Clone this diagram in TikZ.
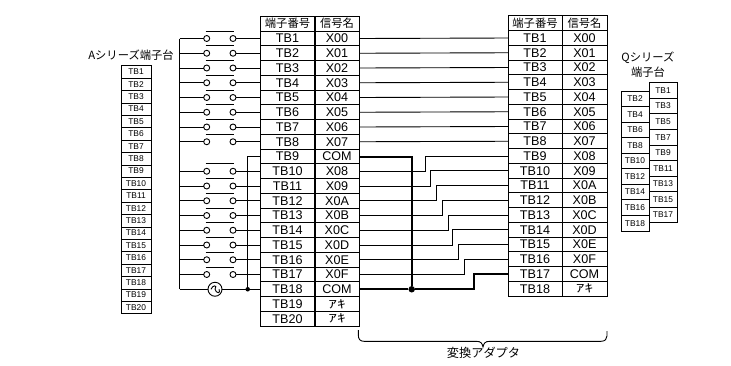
\documentclass[tikz,border=0pt]{standalone}
\usepackage{fontspec}
\setmainfont{Liberation Sans}
\newfontfamily\jp{Noto Sans CJK JP}
\newcommand{\halfkana}{\scalebox{1.5}[1]{\fontsize{11.5}{11.5}\selectfont\jp ｱｷ}}
\tikzset{
  x=1pt,y=-1pt,
  wire/.style={line width=0.9pt,black},
  thick wire/.style={line width=2pt,black},
  cell/.style={draw=black,line width=1pt,minimum height=14.75pt,inner sep=0pt,outer sep=0pt,font=\fontsize{12.6}{12.6}\selectfont},
  numcell/.style={cell,minimum width=55pt},
  sigcell/.style={cell,minimum width=44.5pt},
  rnumcell/.style={cell,minimum width=54pt},
  rsigcell/.style={cell,minimum width=45pt},
  acell/.style={draw=black,line width=0.8pt,minimum width=30pt,minimum height=12.4pt,inner sep=0pt,outer sep=0pt,font=\fontsize{8.4}{8.4}\selectfont},
  qcell/.style={draw=black,line width=0.8pt,minimum width=28pt,minimum height=15.55pt,inner sep=0pt,outer sep=0pt,font=\fontsize{8.4}{8.4}\selectfont},
  contact/.style={circle,draw=black,line width=0.9pt,fill=white,minimum size=6pt,inner sep=0pt,outer sep=0pt},
  source/.style={circle,draw=black,line width=0.9pt,fill=white,minimum size=14pt,inner sep=0pt,outer sep=0pt},
  dot/.style={circle,fill=black,inner sep=0pt,outer sep=0pt},
  label/.style={inner sep=0pt,font=\fontsize{11.3}{15}\selectfont\jp,align=center},
}
\begin{document}
\begin{tikzpicture}
\useasboundingbox (0,0) rectangle (731,365);
\fill[white] (0,0) rectangle (731,365);
% left table
\node[numcell,label,draw,minimum height=15pt] (lh1) at (287.5,23.5) {端子番号};
\node[sigcell,label,draw,minimum height=15pt] (lh2) at (337,23.5) {信号名};
\foreach \i/\s in {1/X00,2/X01,3/X02,4/X03,5/X04,6/X05,7/X06,8/X07,9/COM,10/X08,11/X09,12/X0A,13/X0B,14/X0C,15/X0D,16/X0E,17/X0F,18/COM}{
  \node[numcell] (ln\i) at (287.5,{23.75+14.75*\i}) {TB\i};
  \node[sigcell] (ls\i) at (337,{23.75+14.75*\i}) {\s};
}
\foreach \i in {19,20}{
  \node[numcell] (ln\i) at (287.5,{23.75+14.75*\i}) {TB\i};
  \node[sigcell] (ls\i) at (337,{23.75+14.75*\i}) {\halfkana};
}
% right table
\node[rnumcell,label,draw,minimum height=15.5pt] (rh1) at (535,22.75) {端子番号};
\node[rsigcell,label,draw,minimum height=15.5pt] (rh2) at (584.5,22.75) {信号名};
\foreach \i/\s in {1/X00,2/X01,3/X02,4/X03,5/X04,6/X05,7/X06,8/X07,9/X08,10/X09,11/X0A,12/X0B,13/X0C,14/X0D,15/X0E,16/X0F,17/COM}{
  \node[rnumcell] (rn\i) at (535,{23.25+14.75*\i}) {TB\i};
  \node[rsigcell] (rs\i) at (584.5,{23.25+14.75*\i}) {\s};
}
\node[rnumcell] (rn18) at (535,{23.25+14.75*18}) {TB18};
\node[rsigcell] (rs18) at (584.5,{23.25+14.75*18}) {\halfkana};
% A terminal block
\node[label] (atitle) at (131,55) {Aシリーズ端子台};
\foreach \i in {1,...,20}{
  \node[acell] (a\i) at (136,{59.5+12.4*\i}) {TB\i};
}
% Q terminal block
\node[label] (qtitle) at (648,65) {Qシリーズ\\端子台};
\foreach \i [evaluate=\i as \n using {int(2*\i-1)}] in {1,...,9}{
  \node[qcell] (q\n) at (663,{75+15.55*\i}) {TB\n};
}
\foreach \i [evaluate=\i as \n using {int(2*\i)}] in {1,...,9}{
  \node[qcell] (q\n) at (635,{83.2+15.55*\i}) {TB\n};
}
% straight wires
\foreach \i in {1,...,8}{
  \draw[wire] (ls\i.east) -- (rn\i.west);
}
% common rail
\coordinate (rail) at (179.5,0);
\draw[wire] (rail |- ln1.west) -- (rail |- ln18.west);
% contacts
\foreach \i in {1,...,8,10,11,...,17}{
  \node[contact] (ca\i) at (206.7,{23.75+14.75*\i}) {};
  \node[contact] (cb\i) at (233,{23.75+14.75*\i}) {};
  \draw[wire] (rail |- ca\i.west) -- (ca\i.west);
  \draw[wire] (cb\i.east) -- (ln\i.west);
  \draw[wire] ([shift={(-1,-7.5)}]ca\i.center) -- ([shift={(1,-7.5)}]cb\i.center);
}
% source
\node[source] (ac) at (215,{23.75+14.75*18}) {};
\draw[wire] (ac.west) ++(3,0) .. controls +(1.5,-4.5) and +(3,-4.5) .. ++(4,0) .. controls +(1,4.5) and +(2.5,4.5) .. ++(4,0);
\draw[wire] (rail |- ac.west) -- (ac.west);
\draw[wire] (ac.east) -- (ln18.west);
\node[dot,minimum size=4.5pt] (ldot) at (247.7,{23.75+14.75*18}) {};
\draw[wire] (ln9.west) -- (ln9.west -| ldot) -- (ldot);
% common jumper
\node[dot,minimum size=6.5pt] (rdot) at (411.7,{23.75+14.75*18}) {};
\coordinate (s17) at (474.3,0);
\draw[thick wire,line join=miter] (ls9.east) -- (ls9.east -| rdot) -- (rdot);
\draw[thick wire,line join=miter] (ls18.east) -- (rdot) -- (rdot -| s17) -- (s17 |- rn17.west) -- (rn17.west);
% stepped wires
\foreach \l/\r/\x in {10/9/425.3,11/10/430.7,12/11/436.7,13/12/442.3,14/13/448,15/14/452,16/15/458.7,17/16/464.7}{
  \coordinate (st) at (\x,0);
  \draw[wire] (ls\l.east) -- (ls\l.east -| st) -- (st |- rn\r.west) -- (rn\r.west);
}
% bracket
\coordinate (bl) at (358.3,330);
\coordinate (br) at (607,331);
\coordinate (bt) at (483,347);
\draw[wire] (bl) -- (358.3,335) .. controls (358.3,339) and (360,341.3) .. (364,341.3) -- (476,341.3) .. controls (481,341.3) and (482,343) .. (bt) .. controls (484,343) and (485,341.3) .. (490,341.3) -- (601,341.3) .. controls (605,341.3) and (607,339) .. (607,336) -- (br);
\node[label,font=\fontsize{12.2}{12.2}\selectfont\jp] (blabel) at (483.5,352.7) {変換アダプタ};
\end{tikzpicture}
\end{document}
